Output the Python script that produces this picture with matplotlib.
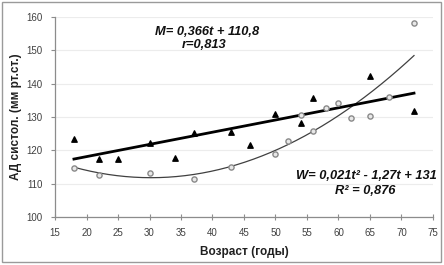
import numpy as np
import matplotlib
matplotlib.use('Agg')
import matplotlib.pyplot as plt
from matplotlib.patches import Rectangle

plt.rcParams['font.family'] = ['Liberation Sans', 'DejaVu Sans']

# Men (triangles)
age_m = [18, 22, 25, 30, 34, 37, 43, 46, 50, 54, 56, 65, 72]
bp_m = [123.4, 117.4, 117.4, 122.2, 117.7, 125.3, 125.4, 121.7, 130.9, 128.2, 135.6, 142.2, 131.8]

# Women (circles)
age_w = [18, 22, 30, 37, 43, 50, 52, 54, 56, 58, 60, 62, 65, 68, 72]
bp_w = [114.8, 112.5, 113.2, 111.3, 115.0, 118.9, 122.8, 130.7, 125.8, 132.8, 134.3, 129.8, 130.3, 135.9, 158.1]

# trend coefficients as printed on the chart
coef_m = [0.366, 110.8]
coef_w = [0.021, -1.27, 131]

x_ticks = [15, 20, 25, 30, 35, 40, 45, 50, 55, 60, 65, 70, 75]
y_ticks = [100, 110, 120, 130, 140, 150, 160]

fig = plt.figure(figsize=(4.44, 2.65), dpi=100)
ax = fig.add_axes([0.124, 0.181, 0.851, 0.755])

# outer frame
fig.patches.append(Rectangle((0.005, 0.01), 0.988, 0.982, transform=fig.transFigure,
                             fill=False, edgecolor='#9a9a9a', linewidth=1.0))

t = np.linspace(18, 72, 200)
ax.plot(t, np.polyval(coef_w, t), color='#404040', linewidth=0.9, zorder=2)
ax.plot(t, np.polyval(coef_m, t), color='black', linewidth=2.0, zorder=3)

ax.scatter(age_w, bp_w, marker='o', s=14, facecolor='#e8e8e8', edgecolor='#8a8a8a',
           linewidths=1.0, zorder=4)
ax.scatter(age_m, bp_m, marker='^', s=15, color='black', zorder=5)

ax.set_xlim(15, 75)
ax.set_ylim(100, 160)
ax.set_xticks(x_ticks)
ax.set_yticks(y_ticks)
ax.yaxis.grid(True, color='#ececec', linewidth=0.8)
ax.set_axisbelow(True)

for s in ['top', 'right']:
    ax.spines[s].set_visible(False)
for s in ['left', 'bottom']:
    ax.spines[s].set_color('#8c8c8c')
    ax.spines[s].set_linewidth(0.9)

ax.tick_params(axis='x', direction='inout', length=4, color='#8c8c8c', labelsize=7,
               labelcolor='#404040', pad=6)
ax.tick_params(axis='y', direction='out', length=3, color='#8c8c8c', labelsize=7,
               labelcolor='#404040', pad=6)

ax.set_xlabel('Возраст (годы)', fontsize=8.5, fontweight='bold', color='#202020', labelpad=6)
ax.set_ylabel('АД систол. (мм рт.ст.)', fontsize=8.5, fontweight='bold', color='#202020', labelpad=3)

ax.text(0.403, 0.925, 'M= 0,366t + 110,8', transform=ax.transAxes, ha='center', va='center',
        fontsize=9.3, fontweight='bold', style='italic', color='#111111')
ax.text(0.395, 0.86, 'r=0,813', transform=ax.transAxes, ha='center', va='center',
        fontsize=9.3, fontweight='bold', style='italic', color='#111111')
ax.text(0.825, 0.205, 'W= 0,021t² - 1,27t + 131', transform=ax.transAxes, ha='center',
        va='center', fontsize=9.3, fontweight='bold', style='italic', color='#111111')
ax.text(0.82, 0.13, 'R² = 0,876', transform=ax.transAxes, ha='center', va='center',
        fontsize=9.3, fontweight='bold', style='italic', color='#111111')

fig.savefig('out.png', dpi=100)
